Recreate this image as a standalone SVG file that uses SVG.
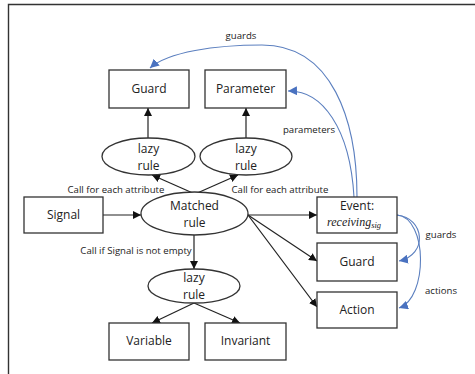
<svg xmlns="http://www.w3.org/2000/svg" width="475" height="374" viewBox="0 0 475 374">
  <defs>
    <style>
      .box { fill: #fff; stroke: #333; stroke-width: 1.3; }
      .ell { fill: #fff; stroke: #333; stroke-width: 1.3; }
      .lbl { font-family: "Open Sans", "Liberation Sans", sans-serif; font-size: 12px; fill: #222; text-anchor: middle; }
      .small { font-family: "Open Sans", "Liberation Sans", sans-serif; font-size: 9.6px; fill: #222; text-anchor: middle; }
      .edge { fill: none; stroke: #222; stroke-width: 1.2; }
      .blue { fill: none; stroke: #5b7fbf; stroke-width: 1.1; }
      .math { font-family: "Liberation Serif", serif; font-style: italic; fill: #222; }
    </style>
    <marker id="ah" viewBox="0 0 10 10" refX="10" refY="5" markerWidth="8" markerHeight="8" markerUnits="userSpaceOnUse" orient="auto">
      <path d="M0,0 L10,5 L0,10 z" fill="#111"/>
    </marker>
    <marker id="ahb" viewBox="0 0 10 10" refX="10" refY="5" markerWidth="9" markerHeight="9" markerUnits="userSpaceOnUse" orient="auto">
      <path d="M0,0 L10,5 L0,10 z" fill="#4a72c0"/>
    </marker>
  </defs>

  <!-- frame -->
  <path d="M8.5,374 L8.5,4.5 L475,4.5" fill="none" stroke="#333" stroke-width="1.4"/>

  <!-- connectors -->
  <g id="connectors">
    <line class="edge" x1="148" y1="138" x2="148" y2="108" marker-end="url(#ah)"/>
    <line class="edge" x1="246" y1="138" x2="246" y2="108" marker-end="url(#ah)"/>
    <line class="edge" x1="195" y1="194" x2="152" y2="175" marker-end="url(#ah)"/>
    <line class="edge" x1="195" y1="194" x2="238" y2="175" marker-end="url(#ah)"/>
    <line class="edge" x1="103" y1="215" x2="141" y2="215" marker-end="url(#ah)"/>
    <line class="edge" x1="194" y1="235" x2="194" y2="269" marker-end="url(#ah)"/>
    <line class="edge" x1="194" y1="303" x2="152" y2="323" marker-end="url(#ah)"/>
    <line class="edge" x1="194" y1="303" x2="240" y2="323" marker-end="url(#ah)"/>
    <line class="edge" x1="248" y1="215" x2="317" y2="215" marker-end="url(#ah)"/>
    <line class="edge" x1="248" y1="215" x2="317" y2="261" marker-end="url(#ah)"/>
    <line class="edge" x1="248" y1="215" x2="317" y2="307" marker-end="url(#ah)"/>

    <path class="blue" d="M357,197 C357,120 332,45 262,45 C215,45 168,52 150,68" marker-end="url(#ahb)"/>
    <path class="blue" d="M354,197 C350,128 322,90 288,91" marker-end="url(#ahb)"/>
    <path class="blue" d="M397,215 C425,218 428,255 399,261" marker-end="url(#ahb)"/>
    <path class="blue" d="M397,215 C428,218 428,298 399,308" marker-end="url(#ahb)"/>

    <text class="small" x="241" y="39">guards</text>
    <text class="small" x="309" y="133">parameters</text>
    <text class="small" x="116" y="193">Call for each attribute</text>
    <text class="small" x="280" y="193">Call for each attribute</text>
    <text class="small" x="136" y="254">Call if Signal is not empty</text>
    <text class="small" x="441" y="238">guards</text>
    <text class="small" x="441" y="294">actions</text>
  </g>

  <g id="guard-top">
    <rect class="box" x="109" y="70" width="80" height="38"/>
    <text class="lbl" x="149" y="93">Guard</text>
  </g>
  <g id="parameter">
    <rect class="box" x="205" y="70" width="81" height="38"/>
    <text class="lbl" x="245.5" y="93">Parameter</text>
  </g>
  <g id="lazy-rule-1">
    <ellipse class="ell" cx="148.5" cy="156.5" rx="46.5" ry="18.5"/>
    <text class="lbl" x="148.5" y="153">lazy</text>
    <text class="lbl" x="148.5" y="170">rule</text>
  </g>
  <g id="lazy-rule-2">
    <ellipse class="ell" cx="246" cy="156.5" rx="46" ry="18.5"/>
    <text class="lbl" x="246" y="153">lazy</text>
    <text class="lbl" x="246" y="170">rule</text>
  </g>
  <g id="signal">
    <rect class="box" x="24" y="197" width="79" height="36"/>
    <text class="lbl" x="63.5" y="219">Signal</text>
  </g>
  <g id="matched-rule">
    <ellipse class="ell" cx="194.5" cy="213.5" rx="53.5" ry="21.5"/>
    <text class="lbl" x="194.5" y="210">Matched</text>
    <text class="lbl" x="194.5" y="227">rule</text>
  </g>
  <g id="lazy-rule-3">
    <ellipse class="ell" cx="194" cy="286" rx="46" ry="17"/>
    <text class="lbl" x="194" y="282">lazy</text>
    <text class="lbl" x="194" y="299">rule</text>
  </g>
  <g id="variable">
    <rect class="box" x="109" y="323" width="80" height="37"/>
    <text class="lbl" x="149" y="345">Variable</text>
  </g>
  <g id="invariant">
    <rect class="box" x="205" y="323" width="81" height="37"/>
    <text class="lbl" x="245.5" y="345">Invariant</text>
  </g>
  <g id="event">
    <rect class="box" x="317" y="197" width="80" height="36"/>
    <text class="lbl" x="357" y="210">Event:</text>
    <text class="math" x="327" y="226" font-size="12">receiving<tspan font-size="8.5" dy="2">sig</tspan></text>
  </g>
  <g id="guard-right">
    <rect class="box" x="317" y="243" width="80" height="38"/>
    <text class="lbl" x="357" y="266">Guard</text>
  </g>
  <g id="action">
    <rect class="box" x="317" y="292" width="80" height="36"/>
    <text class="lbl" x="357" y="314">Action</text>
  </g>
</svg>
